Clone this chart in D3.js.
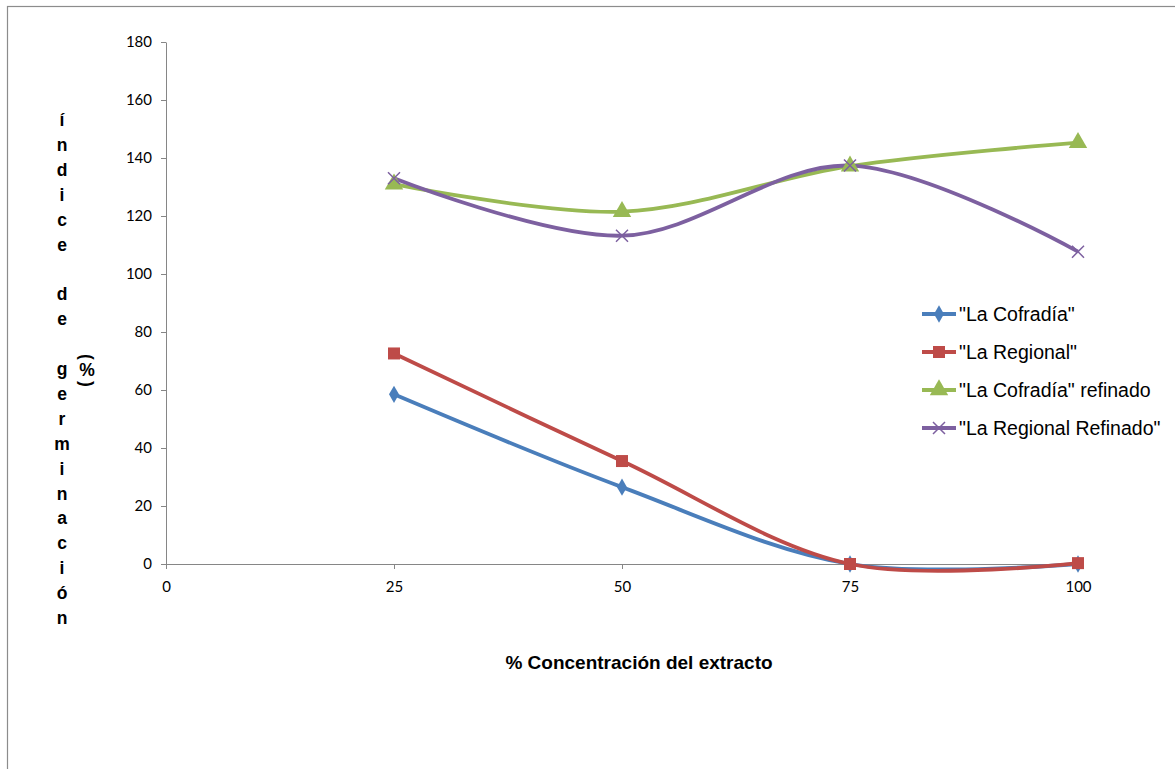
<!DOCTYPE html>
<html>
<head>
<meta charset="utf-8">
<script src="https://cdn.jsdelivr.net/npm/d3@7"></script>
<style>
  body { margin: 0; background: #fff; }
  svg { display: block; }
</style>
</head>
<body>
<div class="chart"></div>
<script>
// data
var concentrations = [25, 50, 75, 100];
var cofradia = [58.5, 26.5, 0, 0];
var regional = [72.6, 35.5, 0, 0.3];
var cofradiaRefinado = [131, 121.5, 137.2, 145.3];
var regionalRefinado = [133, 113.2, 137.4, 107.7];
var seriesNames = ['"La Cofradía"', '"La Regional"', '"La Cofradía" refinado', '"La Regional Refinado"'];
var xTicks = [0, 25, 50, 75, 100];
var yTicks = [0, 20, 40, 60, 80, 100, 120, 140, 160, 180];
var yTitle = 'índice de germinación';
var xTitle = '% Concentración del extracto';

var width = 1175, height = 769;
var colors = ['#4A7EBB', '#BE4B48', '#98B954', '#7D60A0'];
var markers = ['diamond', 'square', 'triangle', 'cross'];
var seriesValues = [cofradia, regional, cofradiaRefinado, regionalRefinado];

var svg = d3.select('.chart')
	.append('svg')
	.attr('width', width)
	.attr('height', height);

// outer chart border
svg.append('rect')
	.attr('x', 7.5).attr('y', 6.5)
	.attr('width', 1200).attr('height', 800)
	.style('fill', 'none')
	.style('stroke', '#8c8c8c')
	.style('stroke-width', 1.2);

var xScale = d3.scaleLinear().domain([0, 100]).range([166, 1078]);
var yScale = d3.scaleLinear().domain([0, 180]).range([564, 42]);

var yAxis = d3.axisLeft(yScale)
	.tickValues(yTicks)
	.tickSizeInner(5)
	.tickSizeOuter(0)
	.tickPadding(9);

svg.append('g')
	.attr('class', 'yaxis')
	.attr('transform', 'translate(' + xScale(0) + ',0)')
	.call(yAxis);

var xAxis = d3.axisBottom(xScale)
	.tickValues(xTicks)
	.tickSizeInner(5)
	.tickSizeOuter(0)
	.tickPadding(12);

svg.append('g')
	.attr('class', 'xaxis')
	.attr('transform', 'translate(0,' + yScale(0) + ')')
	.call(xAxis);

svg.selectAll('.xaxis path, .yaxis path, .xaxis line, .yaxis line')
	.style('stroke', '#868686')
	.style('stroke-width', 1);
svg.selectAll('.xaxis text, .yaxis text')
	.style('font-family', 'Lato, "Open Sans", sans-serif')
	.style('font-size', '15px')
	.style('fill', '#000');

// series lines (smoothed like the original)
var line = d3.line()
	.x(function(d, i) { return xScale(concentrations[i]); })
	.y(function(d) { return yScale(d); })
	.curve(d3.curveCatmullRom.alpha(0.5));

function markerPath(type, size) {
	if (type === 'diamond') return d3.symbol(d3.symbolDiamond, size * size * 0.6)();
	if (type === 'square') return d3.symbol(d3.symbolSquare, size * size)();
	if (type === 'triangle') return d3.symbol(d3.symbolTriangle, size * size * 0.75)();
	var h = size / 2;
	return 'M' + (-h) + ',' + (-h) + 'L' + h + ',' + h + 'M' + (-h) + ',' + h + 'L' + h + ',' + (-h);
}

var markerSize = {diamond: 12, square: 12, triangle: 14, cross: 12};

function drawMarker(g, type, color, x, y) {
	var p = g.append('path')
		.attr('d', markerPath(type, markerSize[type]))
		.attr('transform', 'translate(' + x + ',' + y + ')');
	if (type === 'cross') {
		p.style('fill', 'none').style('stroke', color).style('stroke-width', 1.5);
	} else {
		p.style('fill', color).style('stroke', 'none');
	}
}

var plot = svg.append('g').attr('class', 'plot');

seriesValues.forEach(function(vals, s) {
	plot.append('path')
		.attr('class', 'line')
		.attr('d', line(vals))
		.style('fill', 'none')
		.style('stroke', colors[s])
		.style('stroke-width', 3.8)
		.style('stroke-linejoin', 'round');
});

seriesValues.forEach(function(vals, s) {
	vals.forEach(function(v, i) {
		drawMarker(plot, markers[s], colors[s], xScale(concentrations[i]), yScale(v));
	});
});

// legend
var legendY = [314, 352, 390, 428];
var legend = svg.append('g').attr('class', 'legend');
seriesNames.forEach(function(name, s) {
	var y = legendY[s];
	legend.append('line')
		.attr('x1', 922).attr('x2', 956)
		.attr('y1', y).attr('y2', y)
		.style('stroke', colors[s])
		.style('stroke-width', 3.8);
	drawMarker(legend, markers[s], colors[s], 939, y);
	legend.append('text')
		.attr('x', 959)
		.attr('y', y + 7)
		.style('font-family', '"Liberation Sans", Arial, sans-serif')
		.style('font-size', '19.5px')
		.style('fill', '#000')
		.text(name);
});

// stacked y axis title, one letter per line
var chars = yTitle.split('');
svg.append('g').attr('class', 'ytitle')
	.selectAll('text')
	.data(chars)
	.enter()
	.append('text')
	.attr('x', 62)
	.attr('y', function(d, i) { return 126 + i * 24.9; })
	.attr('text-anchor', 'middle')
	.style('font-family', '"Liberation Sans", Arial, sans-serif')
	.style('font-weight', 'bold')
	.style('font-size', '17.5px')
	.text(function(d) { return d; });

// "(%)" with rotated parentheses
var pct = svg.append('g').attr('class', 'ypct')
	.style('font-family', '"Liberation Sans", Arial, sans-serif')
	.style('font-weight', 'bold')
	.style('font-size', '17.5px');
pct.append('text')
	.attr('text-anchor', 'middle')
	.attr('transform', 'translate(87,357) rotate(90)')
	.attr('dy', '0.35em')
	.text('(');
pct.append('text')
	.attr('x', 87).attr('y', 376)
	.attr('text-anchor', 'middle')
	.text('%');
pct.append('text')
	.attr('text-anchor', 'middle')
	.attr('transform', 'translate(87,384) rotate(90)')
	.attr('dy', '0.35em')
	.text(')');

// x axis title
svg.append('text')
	.attr('x', 639)
	.attr('y', 669)
	.attr('text-anchor', 'middle')
	.style('font-family', '"Liberation Sans", Arial, sans-serif')
	.style('font-weight', 'bold')
	.style('font-size', '19px')
	.text(xTitle);
</script>
</body>
</html>
